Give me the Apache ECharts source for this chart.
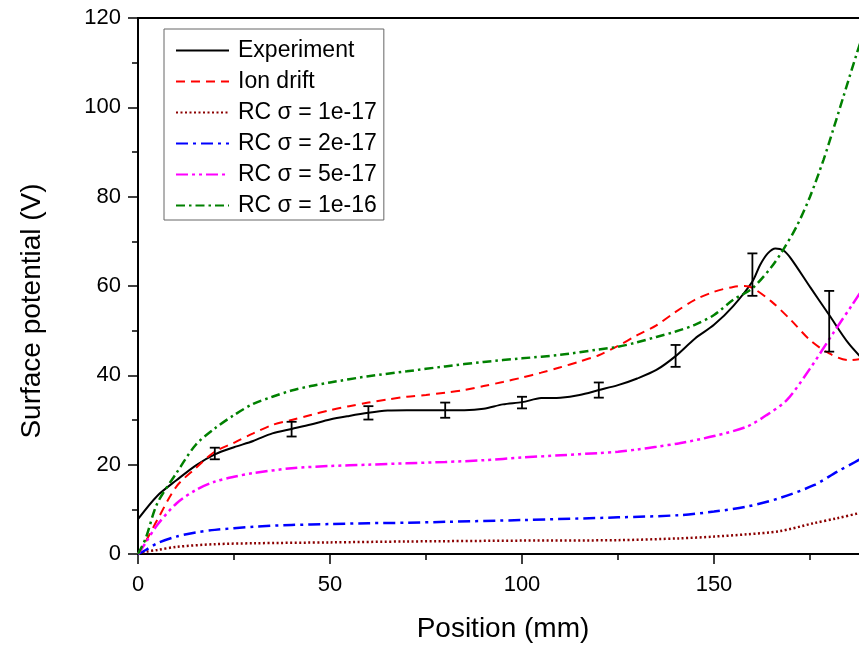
<!DOCTYPE html>
<html>
<head>
<meta charset="utf-8">
<script src="https://cdn.jsdelivr.net/npm/echarts@6/dist/echarts.min.js"></script>
<style>
  html, body { margin: 0; padding: 0; background: #fff; }
  #chart { width: 859px; height: 646px; }
</style>
</head>
<body>
<div id="chart"></div>
<script>
// values
var expX = [0, 5, 10, 15, 20, 25, 30, 35, 40, 45, 50, 55, 60, 65, 70, 75, 80, 85, 90, 95, 100, 105, 110, 115, 120, 125, 130, 135, 140, 145, 150, 155, 160, 162, 164, 166, 168, 170, 175, 180, 185, 190];
var expY = [7.8, 13.0, 16.5, 19.8, 22.3, 23.9, 25.3, 27.0, 28.0, 29.0, 30.1, 30.9, 31.6, 32.1, 32.2, 32.2, 32.2, 32.2, 32.5, 33.5, 34.0, 34.9, 35.0, 35.6, 36.7, 37.8, 39.3, 41.2, 44.3, 48.2, 51.3, 55.5, 61.0, 64.7, 67.3, 68.4, 68.0, 66.2, 59.8, 53.5, 47.2, 42.5];

var ionX = [0, 2, 5, 10, 15, 20, 25, 30, 35, 40, 45, 50, 55, 60, 65, 70, 75, 80, 85, 90, 95, 100, 105, 110, 115, 120, 125, 130, 135, 140, 145, 150, 155, 158, 160, 165, 170, 175, 180, 185, 190];
var ionY = [0, 2.8, 7.6, 15.1, 19.2, 22.9, 24.9, 27.0, 28.9, 30.0, 31.1, 32.2, 33.1, 33.9, 34.6, 35.2, 35.6, 36.1, 36.7, 37.6, 38.5, 39.5, 40.6, 41.8, 43.1, 44.5, 46.6, 49.0, 51.2, 54.2, 56.9, 58.7, 59.8, 60.0, 59.6, 56.5, 52.4, 47.9, 44.9, 43.4, 43.9];

var rc1X = [0, 2, 5, 10, 20, 30, 50, 70, 100, 125, 141, 150, 158.5, 167, 176, 182, 188, 190];
var rc1Y = [0, 0.5, 0.9, 1.6, 2.2, 2.4, 2.6, 2.8, 3.0, 3.1, 3.5, 3.9, 4.4, 5.1, 6.9, 8.0, 9.2, 9.7];

var rc2X = [0, 2, 5, 10, 15, 20, 30, 40, 50, 60, 70, 80, 100, 125, 141, 150, 158.5, 167, 176, 182, 188, 190];
var rc2Y = [0, 0.9, 2.4, 3.9, 4.8, 5.4, 6.1, 6.5, 6.7, 6.9, 7.0, 7.2, 7.6, 8.2, 8.7, 9.5, 10.6, 12.5, 15.4, 18.4, 21.2, 22.3];

var rc5X = [0, 2, 5, 10, 15, 20, 25, 30, 40, 50, 60, 70, 80, 90, 100, 110, 120, 125, 130, 135, 141, 150, 158.5, 163.7, 169, 175, 181, 186, 190];
var rc5Y = [0, 2.5, 6.5, 11.3, 14.3, 16.2, 17.3, 18.1, 19.2, 19.7, 20.0, 20.3, 20.6, 21.0, 21.6, 22.1, 22.6, 22.9, 23.4, 24.0, 24.8, 26.4, 28.5, 31.1, 34.5, 41.5, 49.4, 55.8, 61.0];

var rc10X = [0, 2, 5, 10, 15, 20, 25, 30, 35, 40, 45, 50, 60, 70, 80, 90, 100, 110, 120, 125, 130, 135, 140, 145, 150, 155, 160, 165, 168, 171.5, 175, 178.5, 181, 183.7, 187.2, 190];
var rc10Y = [0, 3.5, 11.3, 18.1, 24.4, 28.1, 31.1, 33.6, 35.2, 36.6, 37.6, 38.4, 39.8, 40.9, 42.0, 43.0, 43.8, 44.6, 45.8, 46.4, 47.4, 48.6, 49.8, 51.3, 53.5, 56.9, 59.5, 64.3, 68.1, 73.3, 80.0, 88.2, 94.9, 102.4, 112.1, 119.5];

var errX = [20, 40, 60, 80, 100, 120, 140, 160, 180];
var errLow = [21.2, 26.3, 30.1, 30.5, 32.6, 35.0, 41.9, 57.8, 45.3];
var errHigh = [23.8, 29.6, 33.1, 33.9, 35.2, 38.4, 46.8, 67.3, 58.9];

var legendNames = ['Experiment', 'Ion drift', 'RC \u03c3 = 1e-17', 'RC \u03c3 = 2e-17', 'RC \u03c3 = 5e-17', 'RC \u03c3 = 1e-16'];

function pairs(xs, ys) {
  return xs.map(function (x, i) { return [x, ys[i]]; });
}

var font = 'Liberation Sans, Arial, sans-serif';
var chart = echarts.init(document.getElementById('chart'));

function lineSeries(name, xs, ys, color, type, width) {
  return {
    name: name,
    type: 'line',
    data: pairs(xs, ys),
    symbol: 'none',
    smooth: 0.3,
    lineStyle: { color: color, width: width, type: type },
    itemStyle: { color: color },
    z: 3
  };
}

function axisCommon(labelMargin) {
  return {
    axisLine: { lineStyle: { color: '#000', width: 2 } },
    axisTick: { inside: false, length: 10, lineStyle: { color: '#000', width: 1.5 } },
    minorTick: { show: true, splitNumber: 2, length: 6, lineStyle: { color: '#000', width: 1.5 } },
    splitLine: { show: false },
    axisLabel: { color: '#000', fontSize: 22, fontFamily: font, margin: labelMargin }
  };
}

chart.setOption({
  backgroundColor: '#fff',
  animation: false,
  grid: {
    left: 138, top: 18, bottom: 92, right: -47,
    outerBoundsMode: 'none',
    containLabel: false,
    show: true, borderColor: '#000', borderWidth: 2
  },
  legend: {
    data: legendNames,
    orient: 'vertical',
    left: 164, top: 29,
    itemWidth: 53, itemHeight: 14, itemGap: 8,
    padding: [10, 7, 3, 11],
    borderColor: '#666', borderWidth: 1,
    backgroundColor: '#fff',
    itemStyle: { opacity: 0 },
    textStyle: { color: '#000', fontSize: 23, fontFamily: font, padding: [0, 0, 0, 4] }
  },
  xAxis: Object.assign({
    type: 'value', min: 0, max: 200, interval: 50,
    name: 'Position (mm)', nameLocation: 'middle', nameGap: 61,
    nameTextStyle: { color: '#000', fontSize: 28, fontFamily: font, padding: [0, 38, 0, 0] }
  }, axisCommon(20)),
  yAxis: Object.assign({
    type: 'value', min: 0, max: 120, interval: 20,
    name: 'Surface potential (V)', nameLocation: 'middle', nameGap: 92,
    nameTextStyle: { color: '#000', fontSize: 28, fontFamily: font, padding: [0, 50, 0, 0] }
  }, axisCommon(17)),
  series: [
    lineSeries(legendNames[0], expX, expY, '#000000', 'solid', 2),
    lineSeries(legendNames[1], ionX, ionY, '#ff0000', [9, 6], 2),
    lineSeries(legendNames[2], rc1X, rc1Y, '#8b0000', [2, 2.5], 2.5),
    lineSeries(legendNames[3], rc2X, rc2Y, '#0000ff', [12, 5, 3, 5], 2.5),
    lineSeries(legendNames[4], rc5X, rc5Y, '#ff00ff', [12, 4, 3, 4, 3, 4], 2.5),
    lineSeries(legendNames[5], rc10X, rc10Y, '#008000', [9, 4, 2.5, 4], 2.5),
    {
      name: 'err',
      type: 'custom',
      data: errX.map(function (x, i) { return [x, errLow[i], errHigh[i]]; }),
      renderItem: function (params, api) {
        var lo = api.coord([api.value(0), api.value(1)]);
        var hi = api.coord([api.value(0), api.value(2)]);
        var w = 5;
        var st = { stroke: '#000', lineWidth: 1.8 };
        return {
          type: 'group',
          children: [
            { type: 'line', shape: { x1: lo[0], y1: lo[1], x2: hi[0], y2: hi[1] }, style: st },
            { type: 'line', shape: { x1: lo[0] - w, y1: lo[1], x2: lo[0] + w, y2: lo[1] }, style: st },
            { type: 'line', shape: { x1: hi[0] - w, y1: hi[1], x2: hi[0] + w, y2: hi[1] }, style: st }
          ]
        };
      },
      z: 4
    }
  ]
});
</script>
</body>
</html>
